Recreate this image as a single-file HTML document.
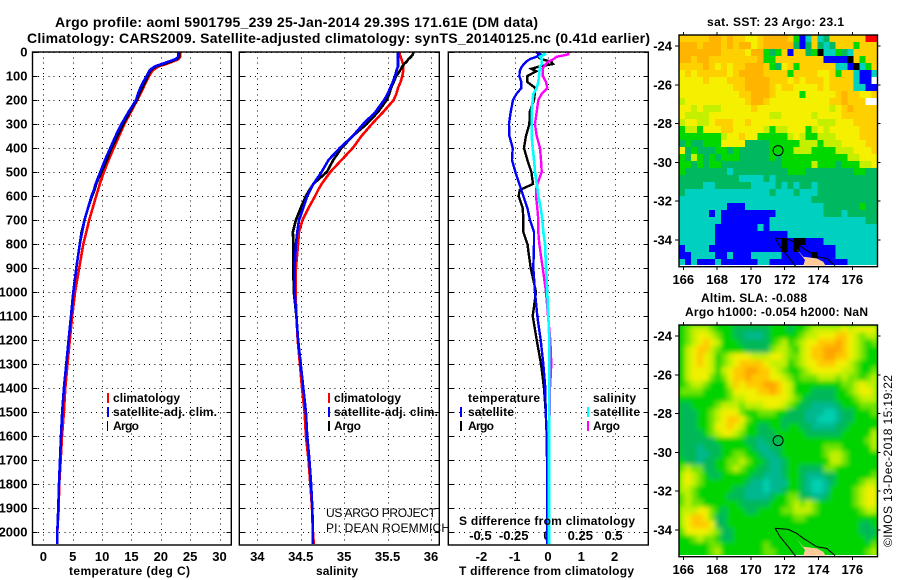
<!DOCTYPE html>
<html lang="en">
<head>
<meta charset="utf-8">
<title>Argo profile 5901795_239</title>
<style>
html,body{margin:0;padding:0;background:#fff;width:900px;height:580px;overflow:hidden}
svg{display:block}
text{font-family:"Liberation Sans",sans-serif;fill:#000}
.b{font-weight:bold;font-size:13px}
.l{font-weight:bold;font-size:12px}
.t{font-weight:bold;font-size:14px}
.r{font-weight:normal;font-size:12px}
</style>
</head>
<body>
<svg id="chart" xmlns="http://www.w3.org/2000/svg" width="900" height="580" viewBox="0 0 900 580">
  <defs>
    <filter id="sla-smooth" x="-5%" y="-5%" width="110%" height="110%"><feGaussianBlur stdDeviation="2.4"/></filter>
    <clipPath id="sla-clip"><rect x="679" y="325" width="198.5" height="231.7"/></clipPath>
  </defs>
  <rect x="0" y="0" width="900" height="580" fill="#fff"/>
  <text class="t" x="55" y="27" textLength="483" lengthAdjust="spacing">Argo profile: aoml 5901795_239 25-Jan-2014 29.39S 171.61E (DM data)</text>
  <text class="t" x="27" y="43" textLength="623" lengthAdjust="spacing">Climatology: CARS2009. Satellite-adjusted climatology: synTS_20140125.nc (0.41d earlier)</text>
  <g id="panels"></g>
  <g id="maps"></g>

  <g>
    <rect x="107" y="393" width="2" height="10" fill="#f00"/>
    <text class="l" x="113" y="402" textLength="67" lengthAdjust="spacing">climatology</text>
    <rect x="107" y="407" width="2" height="10" fill="#00f"/>
    <text class="l" x="113" y="416" textLength="104" lengthAdjust="spacing">satellite-adj. clim.</text>
    <rect x="107" y="421" width="1" height="10" fill="#000"/>
    <text class="l" x="113" y="430" textLength="26" lengthAdjust="spacing">Argo</text>
  </g>
  <g>
    <rect x="328" y="393" width="2" height="10" fill="#f00"/>
    <text class="l" x="334" y="402" textLength="67" lengthAdjust="spacing">climatology</text>
    <rect x="328" y="407" width="2" height="10" fill="#00f"/>
    <text class="l" x="334" y="416" textLength="104" lengthAdjust="spacing">satellite-adj. clim.</text>
    <rect x="328" y="421" width="2" height="10" fill="#000"/>
    <text class="l" x="334" y="430" textLength="27" lengthAdjust="spacing">Argo</text>
    <text class="r" x="326" y="517" textLength="110" lengthAdjust="spacing">US ARGO PROJECT</text>
    <text class="r" x="326" y="532" textLength="124" lengthAdjust="spacing">PI: DEAN ROEMMICH</text>
  </g>
  <g>
    <text class="l" x="468" y="402" textLength="72" lengthAdjust="spacing">temperature</text>
    <rect x="460" y="407" width="2" height="10" fill="#00f"/>
    <text class="l" x="468" y="416" textLength="46" lengthAdjust="spacing">satellite</text>
    <rect x="460" y="421" width="2" height="10" fill="#000"/>
    <text class="l" x="468" y="430" textLength="26" lengthAdjust="spacing">Argo</text>
    <text class="l" x="593" y="402" textLength="43" lengthAdjust="spacing">salinity</text>
    <rect x="587" y="407" width="2" height="10" fill="#0ff"/>
    <text class="l" x="593" y="416" textLength="47" lengthAdjust="spacing">satellite</text>
    <rect x="587" y="421" width="2" height="10" fill="#f0f"/>
    <text class="l" x="593" y="430" textLength="27" lengthAdjust="spacing">Argo</text>
    <text class="l" x="459" y="525" textLength="176" lengthAdjust="spacing">S difference from climatology</text>
  </g>
  <text class="l" x="69" y="575" textLength="121" lengthAdjust="spacing">temperature (deg C)</text>
  <text class="l" x="316" y="575" textLength="42" lengthAdjust="spacing">salinity</text>
  <text class="l" x="459" y="575" textLength="175" lengthAdjust="spacing">T difference from climatology</text>

  <text class="l" x="707" y="26" textLength="137" lengthAdjust="spacing">sat. SST: 23 Argo: 23.1</text>
  <text class="l" x="701" y="302" textLength="106" lengthAdjust="spacing">Altim. SLA: -0.088</text>
  <text class="l" x="685" y="316" textLength="183" lengthAdjust="spacing">Argo h1000: -0.054 h2000: NaN</text>
  <text class="r" transform="translate(892,547) rotate(-90)" x="0" y="0" textLength="172" lengthAdjust="spacing">©IMOS 13-Dec-2018 15:19:22</text>
</svg>

<script>
// ---------- profile data ----------
const depthLevels = [0,10,20,30,40,50,60,70,80,100,125,150,175,200,250,300,350,400,450,500,550,575,600,650,700,750,800,900,1000,1100,1200,1300,1400,1500,1600,1700,1800,1900,2000,2050];

const tempClim = [23.3,23.3,23.3,23.0,22.0,20.9,19.6,19.0,18.5,18.0,17.5,17.0,16.5,16.0,14.9,13.8,12.9,12.0,11.1,10.3,9.6,9.3,9.0,8.4,7.8,7.3,6.8,6.1,5.4,4.9,4.5,4.1,3.73,3.5,3.17,2.95,2.7,2.6,2.37,2.37];
const tempArgo = [23.1,23.1,23.1,22.7,21.7,20.5,19.2,18.6,18.2,17.8,17.3,16.8,16.3,15.9,14.7,13.6,12.6,11.6,10.8,9.9,9.0,8.7,8.3,7.6,7.0,6.5,6.2,5.6,5.1,4.7,4.3,3.9,3.5,3.2,3.0,2.83,2.66,2.54,2.37,2.37];
const tempSat = [23.0,23.0,23.0,22.5,21.3,20.2,19.0,18.4,18.0,17.6,17.0,16.5,16.1,15.8,14.5,13.3,12.3,11.4,10.5,9.7,8.9,8.6,8.2,7.6,7.0,6.6,6.2,5.6,5.1,4.7,4.3,3.9,3.5,3.2,3.0,2.83,2.66,2.54,2.37,2.37];

const salClim = [35.64,35.64,35.65,35.66,35.67,35.68,35.68,35.68,35.68,35.67,35.65,35.62,35.60,35.57,35.45,35.32,35.2,35.1,34.97,34.84,34.74,34.70,34.665,34.59,34.52,34.48,34.47,34.445,34.44,34.45,34.465,34.49,34.515,34.545,34.56,34.59,34.61,34.63,34.64,34.65];
const salArgo = [35.8,35.79,35.77,35.74,35.72,35.69,35.67,35.655,35.64,35.6,35.57,35.54,35.52,35.49,35.39,35.26,35.1,34.97,34.875,34.8,34.645,34.60,34.56,34.5,34.445,34.41,34.415,34.415,34.42,34.45,34.47,34.50,34.53,34.56,34.575,34.6,34.62,34.633,34.64,34.64];
const salSat = [35.62,35.62,35.62,35.62,35.62,35.62,35.62,35.61,35.60,35.585,35.56,35.53,35.50,35.46,35.36,35.22,35.1,34.95,34.82,34.74,34.645,34.61,34.575,34.53,34.48,34.46,34.445,34.43,34.43,34.45,34.47,34.50,34.53,34.56,34.575,34.6,34.62,34.633,34.64,34.64];

const tDiffArgo = [-0.30,-0.30,-0.30,-0.20,0.10,0.15,-0.25,-0.50,-0.35,-0.62,-0.62,-0.38,-0.40,-0.42,-0.55,-0.56,-0.66,-0.72,-0.62,-0.50,-0.45,-0.85,-0.88,-0.76,-0.74,-0.74,-0.62,-0.52,-0.36,-0.46,-0.34,-0.21,-0.12,-0.07,-0.04,-0.03,-0.02,-0.03,-0.03,-0.03];
const tDiffSat = [-0.37,-0.22,-0.35,-0.55,-0.65,-0.72,-0.78,-0.82,-0.85,-0.86,-0.80,-0.80,-0.95,-1.05,-1.12,-1.17,-1.16,-1.06,-1.08,-0.98,-0.86,-0.80,-0.74,-0.62,-0.54,-0.42,-0.42,-0.44,-0.39,-0.32,-0.22,-0.14,-0.08,-0.07,-0.04,-0.03,-0.02,-0.03,-0.03,-0.03];
const sDiffArgo = [0.1525,0.1525,0.065,0.04,0.0025,-0.015,-0.03,-0.04,-0.04,-0.04,-0.015,-0.005,-0.0475,-0.0725,-0.085,-0.0975,-0.085,-0.06,-0.0525,-0.0475,-0.08,-0.09,-0.09,-0.08,-0.0725,-0.0725,-0.065,-0.04,-0.015,0,0.0175,0.025,0.015,0.012,0.01,0.008,0.008,0.006,0.006,0.006];
const sDiffSat = [-0.035,-0.0225,-0.06,-0.0475,-0.0475,-0.0475,-0.06,-0.06,-0.065,-0.0675,-0.0725,-0.085,-0.11,-0.115,-0.1225,-0.1225,-0.1225,-0.115,-0.105,-0.0975,-0.085,-0.0775,-0.0725,-0.055,-0.0425,-0.035,-0.0225,-0.015,-0.005,0.0025,0.01,0.01,0.01,0.01,0.0075,0.0075,0.0075,0.0075,0.0075,0.0075];

// ---------- tick labels ----------
const depthTicks = [0,100,200,300,400,500,600,700,800,900,1000,1100,1200,1300,1400,1500,1600,1700,1800,1900,2000];
const tempTicks = [0,5,10,15,20,25,30];
const salTicks = [34,34.5,35,35.5,36];
const tDiffTicks = [-2,-1,0,1,2];
const sDiffTicks = [-0.5,-0.25,0,0.25,0.5];
const sDiffLabels = ['-0.5','-0.25','0','0.25','0.5'];
const lonTicks = [166,168,170,172,174,176];
const latTicks = [-24,-26,-28,-30,-32,-34];

// ---------- coast (lon, lat) ----------
const westCoastLon = [171.43,171.72,172.21,172.67];
const westCoastLat = [-33.91,-34.34,-34.86,-35.38];
const eastCoastLon = [171.43,172.21,172.71,173.1,173.89,174.48,174.98];
const eastCoastLat = [-33.91,-33.97,-34.17,-34.43,-34.86,-34.95,-35.32];
const landLon = [172.67,173.1,173.89,174.28,174.42,173.1,173.2];
const landLat = [-34.43,-34.86,-34.95,-35.12,-35.32,-35.32,-35.03];
const floatLon = 171.61;
const floatLat = -29.39;

// ---------- gridded map values (letters = colour classes) ----------
const sstLevels = {b:'#0000ff',t:'#00d0c0',d:'#00b860',g:'#00d800',l:'#c4f000',y:'#f4f000',o:'#ffd000',O:'#ffb400',r:'#ff0000',k:'#000000',w:'#ffffff'};
const slaLevels = {t:'#00d0b0',e:'#00b890',d:'#00b858',g:'#00d400',h:'#70e400',l:'#c0f000',y:'#f0f000',o:'#ffc800',O:'#ffa400'};
const sstRows = [
"oooooOOoOo oyyoOOOOog btotdooooo orr",
"OOOoOOOoOo OOyoOOOOOd bdodtdooog ooo",
"OOOOOOOooo oyOOgdgobo odgkttgdto ooo",
"OOoOOooooo oooOggoooo oooobbbbko goo",
"ooooOoyoyo oOOOogdyog oooooottbk tgo",
"yoyoooooyo OOOOoooogo oooyyogoot bbt",
"yyyyoyyyoo oOOOOoooyo yoooyoooot bbw",
"yyyyyyyyyo oOOOOoyooy yyyoyoooot tbb",
"yyyyyyyyyy ooOOOoyyyy gyyyyyoOoo yyo",
"lyyyyyyyyy yoOOoyyyyy yyyyyooOoo oww",
"yylylllyyy yyoyyyyyyy yyyyylyoOo ooo",
"yllllyyyyy yyyyyllyyy yylyyyyooo ooo",
"lyyllyoooy yoyyyyyyyy yyylllyyyo ooo",
"gllgyyyooy yyyylgllyy yglylyyyyy ooo",
"ggggggglyy oyygggggly lgglllyyyy ooo",
"dgddgggyyy yddddggggg lllglllyyy yoo",
"ydgdddggdg dddddggggl llggggllly yyo",
"gdlgdgdggg dddddgdggg ggggggggll yyy",
"ggdgdggddd dddddddggg gglgggdggg lly",
"gdddddddtd ddddddddgg gddddddddg gdd",
"dddddddddd ttttdtdddd dddddddddd ddd",
"ddddttdddd ddttttdtdt ddtddddddd ddd",
"dttttttttt tttttdtttd tttddddddd ddd",
"tttttttttt tttttttttt ttdddddddd ddd",
"ttttttttbb bttttttttt ttttdddddd gdd",
"tttttbtbbb bbbbbbtttt ttttdddtdd ddd",
"tttttttbbb bbbbbttttt tttttttttt tdd",
"ttttttbbbb bbbtbttttt tttttttttt ttt",
"ttttttbbbb bbbbbbbbtt tttttttttt ttt",
"ttttttbbbb bbbbbbbkbk kbbbtttttt ttt",
"bttttbbbbb bbbbbbbkbk bbbbbbtttt ttt",
"bbttttbbtb bbtttttbbb bbkbbbtttt ttt",
"tbtbbbtbbb bbbttbbbbb bbbbbbbbtt ttt"
];
const slaRows = [
"ghlllhgggd dddddgggdg ghlllllyly yyy",
"ghlyylhggd deeedggggg hllyyyooyl hll",
"ghlyoylggg dddddghlgh lyyoooOoyl hgh",
"glyoolhggg gddddhllhg lyooOOOoyl hgg",
"glyoylghly yylllyylhh lyooOOooyl hgg",
"glyoylghly ooooylllgh lyyoooyylh ggg",
"glyyylglyo oOOooylhgg hlyyyyyllh ggh",
"glyyyhghyo oOoooyylhg hhhlllhlhh ghl",
"ghllhggglo yoooOOoylg ggggggghhl yll",
"hhhhgggghy yyyooOoylg ggddddgghl yyl",
"gggggggghl lyyyyyyylh gdddddgggh lll",
"ddgggghlll hlllyyylhg ddeeeedggg hhh",
"dddgghlyyy hgghhhggdd deeetteddg ggh",
"dddgghlyoo yhgggggddd deettteddg ggg",
"dddgghyyoy lggddggdgg ddeeeeddgg ggg",
"ddddghlyyl hggdddgggg gddddddggg ggl",
"ddddddgggg gddedddggg gggggggggg ghl",
"dddedddggg ggdeeddggg gggghhhggg ggl",
"dddeeddggh hggdeedggg gggghllhgg ggg",
"gddeddgghh lhggdeedgg gggggllhgg ggg",
"hlhhddgghl hggddeedgg ddddhhgggg ggg",
"lylhgddggg ggddeeedgg deeeddgggg ggh",
"lylhgggggg gdeeteeegg dettedgggg hll",
"llhggggggd deeeteedgg detteggggh lyy",
"hlhgggggdd deeeedgghh ddeedggggh lyy",
"hlhhgggggg dddddggghl hlhggggggh lyy",
"lllyyhgdgg gddgggghhl llhggggggg hll",
"lyooyhddgg gggggggggh hggggggggg ggg",
"lyoooyddgg gggggggggg gggggggggg ddg",
"hyyyylhddg gggggggggg gggggggggg ddd",
"gghlhhgddg gggggggggg gggggggggg gdg",
"ggggghhggg gggghggggg gggggggggg ggh",
"ggggghlggg gggghhgggg gggggggggg ghl"
];

// ---------- scales ----------
const NS = 'http://www.w3.org/2000/svg';
const panels = document.getElementById('panels');
const maps = document.getElementById('maps');
const PLOT_TOP = 52, PLOT_BOTTOM = 545;
const yDepth = d => 52 + 0.24 * d;
const xTemp = v => 43.4 + 5.87 * v;
const xSal = v => 257.3 + 86.85 * (v - 34);
const xTDiff = v => 548 + 33.3 * v;
const xSDiff = v => 548 + 133.2 * v;
const xLon = v => 683.3 + 16.9 * (v - 166);
const yLat = (v, top) => top + 11 + 19.4 * (-24 - v);

function line(parent, x1, y1, x2, y2, name, dash) {
  const el = document.createElementNS(NS, 'line');
  
  
  el.setAttribute('x1', x1);
  el.setAttribute('y1', y1);
  el.setAttribute('x2', x2);
  el.setAttribute('y2', y2);
  el.setAttribute('stroke', '#000');
  el.setAttribute('stroke-width', '1');
  el.setAttribute('shape-rendering', 'crispEdges');
  if (dash) el.setAttribute('stroke-dasharray', dash);
  parent.appendChild(el);
  return el;
}
function label(parent, str, x, y, anchor, name) {
  const el = document.createElementNS(NS, 'text');
  
  
  el.setAttribute('class', 'b');
  el.setAttribute('x', x);
  el.setAttribute('y', y);
  el.setAttribute('text-anchor', anchor);
  el.textContent = str;
  parent.appendChild(el);
  return el;
}
function frame(parent, x, y, w, h, name) {
  const el = document.createElementNS(NS, 'rect');
  
  
  el.setAttribute('x', x);
  el.setAttribute('y', y);
  el.setAttribute('width', w);
  el.setAttribute('height', h);
  el.setAttribute('fill', 'none');
  el.setAttribute('stroke', '#000');
  el.setAttribute('stroke-width', '1.4');
  parent.appendChild(el);
}
function profile(parent, values, xScale, colour, width, name) {
  const el = document.createElementNS(NS, 'polyline');
  
  
  el.setAttribute('points', values.map((v, i) => xScale(v).toFixed(1) + ',' + yDepth(depthLevels[i]).toFixed(1)).join(' '));
  el.setAttribute('fill', 'none');
  el.setAttribute('stroke', colour);
  el.setAttribute('stroke-width', width);
  el.setAttribute('shape-rendering', 'crispEdges');
  parent.appendChild(el);
}

function drawPanel(left, right, ticks, xScale, panelName) {
  const g = document.createElementNS(NS, 'g');
  
  
  panels.appendChild(g);
  ticks.forEach(t => {
    line(g, Math.round(xScale(t)) + 0.5, PLOT_TOP, Math.round(xScale(t)) + 0.5, PLOT_BOTTOM, 'vertical-gridline', '1 4.3');
  });
  depthTicks.forEach(d => {
    const y = Math.round(yDepth(d)) + 0.5;
    line(g, left, y, right, y, 'horizontal-gridline', '1 4.3');
    line(g, left, y, left + 5, y, 'depth-tick-left');
    line(g, right - 5, y, right, y, 'depth-tick-right');
  });
  return g;
}

// panel 1: temperature
const p1 = drawPanel(32.5, 231.3, tempTicks, xTemp, 'temperature-panel');
depthTicks.forEach(d => { label(p1, String(d), 27.5, yDepth(d) + 4.5, 'end', 'depth-tick-label'); });
tempTicks.forEach(t => { label(p1, String(t), xTemp(t), 561, 'middle', 'temperature-tick-label'); });
profile(p1, tempClim, xTemp, '#ff0000', 2.6, 'temperature-climatology-line');
profile(p1, tempArgo, xTemp, '#000000', 2.6, 'temperature-argo-line');
profile(p1, tempSat, xTemp, '#0000ff', 2.6, 'temperature-satellite-line');
frame(p1, 32.5, PLOT_TOP, 198.8, PLOT_BOTTOM - PLOT_TOP, 'temperature-panel-frame');

// panel 2: salinity
const p2 = drawPanel(239.3, 439.3, salTicks, xSal, 'salinity-panel');
salTicks.forEach(t => { label(p2, String(t), xSal(t), 561, 'middle', 'salinity-tick-label'); });
profile(p2, salClim, xSal, '#ff0000', 2.6, 'salinity-climatology-line');
profile(p2, salArgo, xSal, '#000000', 2.6, 'salinity-argo-line');
profile(p2, salSat, xSal, '#0000ff', 2.6, 'salinity-satellite-line');
frame(p2, 239.3, PLOT_TOP, 200, PLOT_BOTTOM - PLOT_TOP, 'salinity-panel-frame');

// panel 3: differences
const p3 = drawPanel(448.3, 648.3, tDiffTicks, xTDiff, 'difference-panel');
tDiffTicks.forEach(t => { label(p3, String(t), xTDiff(t), 561, 'middle', 't-difference-tick-label'); });
sDiffTicks.forEach((t, i) => { label(p3, sDiffLabels[i], xSDiff(t) - 1, 540, 'middle', 's-difference-tick-label'); });
profile(p3, tDiffArgo, xTDiff, '#000000', 2.4, 't-difference-argo-line');
profile(p3, tDiffSat, xTDiff, '#0000ff', 2.4, 't-difference-satellite-line');
profile(p3, sDiffArgo, xSDiff, '#ff00ff', 2.4, 's-difference-argo-line');
profile(p3, sDiffSat, xSDiff, '#00ffff', 2.6, 's-difference-satellite-line');
frame(p3, 448.3, PLOT_TOP, 200, PLOT_BOTTOM - PLOT_TOP, 'difference-panel-frame');

// maps
const MAP_LEFT = 679, MAP_RIGHT = 877.5, CELL_W = 6.02, CELL_H = 7;
function poly(parent, lons, lats, top, closed, colour, name) {
  const el = document.createElementNS(NS, closed ? 'polygon' : 'polyline');
  
  
  el.setAttribute('points', lons.map((v, i) => xLon(v).toFixed(1) + ',' + yLat(lats[i], top).toFixed(1)).join(' '));
  el.setAttribute('fill', closed ? colour : 'none');
  el.setAttribute('stroke', closed ? 'none' : colour);
  el.setAttribute('stroke-width', '1');
  parent.appendChild(el);
}
function drawMap(top, rows, levels, mapName, cellName, smooth) {
  const g = document.createElementNS(NS, 'g');
  
  
  maps.appendChild(g);
  const clipGroup = document.createElementNS(NS, 'g');
  
  
  g.appendChild(clipGroup);
  const cells = document.createElementNS(NS, 'g');
  
  
  clipGroup.appendChild(cells);
  if (smooth) {
    clipGroup.setAttribute('clip-path', 'url(#sla-clip)');
    cells.setAttribute('filter', 'url(#sla-smooth)');
    const base = document.createElementNS(NS, 'rect');
    
    
    base.setAttribute('x', MAP_LEFT);
    base.setAttribute('y', top);
    base.setAttribute('width', MAP_RIGHT - MAP_LEFT);
    base.setAttribute('height', 232);
    base.setAttribute('fill', levels.g);
    clipGroup.insertBefore(base, cells);
  }
  rows.forEach((row, r) => {
    row.replace(/ /g, '').split('').forEach((ch, c) => {
      const el = document.createElementNS(NS, 'rect');
      
      
      el.setAttribute('x', MAP_LEFT + c * CELL_W);
      el.setAttribute('y', top + r * CELL_H);
      el.setAttribute('width', CELL_W + 0.4);
      el.setAttribute('height', CELL_H + 0.4);
      el.setAttribute('fill', levels[ch]);
      el.setAttribute('shape-rendering', 'crispEdges');
      cells.appendChild(el);
    });
  });
  const strip = document.createElementNS(NS, 'rect');
  
  
  strip.setAttribute('x', MAP_LEFT);
  strip.setAttribute('y', top + 230);
  strip.setAttribute('width', MAP_RIGHT - MAP_LEFT);
  strip.setAttribute('height', 1.7);
  strip.setAttribute('fill', '#fff');
  g.appendChild(strip);
  poly(g, landLon, landLat, top, true, '#ffcc99', 'land');
  poly(g, westCoastLon, westCoastLat, top, false, '#000', 'coastline-west');
  poly(g, eastCoastLon, eastCoastLat, top, false, '#000', 'coastline-east');
  const mark = document.createElementNS(NS, 'circle');
  
  
  mark.setAttribute('cx', xLon(floatLon));
  mark.setAttribute('cy', yLat(floatLat, top));
  mark.setAttribute('r', 5);
  mark.setAttribute('fill', 'none');
  mark.setAttribute('stroke', '#000');
  mark.setAttribute('stroke-width', '1');
  g.appendChild(mark);
  frame(g, MAP_LEFT, top, MAP_RIGHT - MAP_LEFT, 231.7, mapName + '-frame');
  lonTicks.forEach(t => {
    const x = xLon(t);
    line(g, x, top - 3, x, top, 'longitude-tick-top');
    line(g, x, top + 231.7, x, top + 235, 'longitude-tick-bottom');
    label(g, String(t), x, top + 249, 'middle', 'longitude-tick-label');
  });
  latTicks.forEach(t => {
    const y = yLat(t, top);
    line(g, MAP_LEFT - 4, y, MAP_LEFT, y, 'latitude-tick-left');
    line(g, MAP_RIGHT, y, MAP_RIGHT + 3, y, 'latitude-tick-right');
    label(g, String(t), 672, y + 4.5, 'end', 'latitude-tick-label');
  });
}
drawMap(35, sstRows, sstLevels, 'sst-map', 'sst-cell', false);
drawMap(325, slaRows, slaLevels, 'sla-map', 'sla-cell', true);
</script>
</body>
</html>
